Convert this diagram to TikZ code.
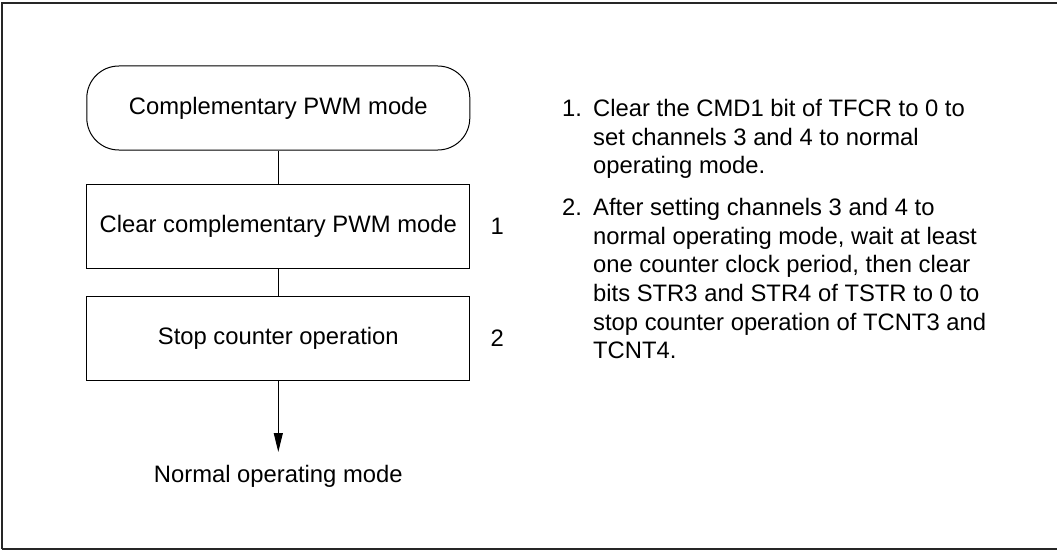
\documentclass[tikz,border=0pt]{standalone}
\usepackage{fontspec}
\setmainfont{Liberation Sans}
\usetikzlibrary{arrows.meta,positioning}
\newcommand{\flowfont}{\fontsize{23.8pt}{28.7pt}\selectfont}

\begin{document}
\begin{tikzpicture}[>={Triangle[length=19pt,width=9pt]}, x=1pt, y=-1pt]

\tikzset{
  frame/.style={
    draw=black!85,
    line width=1.5pt
  },
  stepbox/.style={
    draw,
    line width=1pt,
    fill=white,
    align=center,
    minimum width=383pt,
    minimum height=84pt,
    inner sep=0pt,
    font=\flowfont
  },
  terminal/.style={
    stepbox,
    rounded corners=32pt
  },
  plain/.style={
    inner sep=0pt,
    font=\flowfont
  },
  note/.style={
    inner sep=0pt,
    align=left,
    anchor=north west,
    font=\flowfont
  }
}

\useasboundingbox (0,0) rectangle (1057,551);
\draw[frame] (2,549) -- (2,3) -- (1062,3);
\draw[frame] (2,549) -- (1062,549);

% Flow on the left
\node[terminal] (start) at (278.3,108) {Complementary PWM mode};
\node[stepbox] (clear) at (278.3,226) {Clear complementary PWM mode};
\node[stepbox] (stop) at (278.3,338) {Stop counter operation};
\node[plain, anchor=north, outer ysep=13pt] (normal) at (278.3,452) {Normal operating mode};

\node[plain, right=20pt of clear] (n1) {1};
\node[plain, right=20pt of stop] (n2) {2};

\draw[line width=1pt] (start) -- (clear);
\draw[line width=1pt] (clear) -- (stop);
\draw[->, line width=1pt] (stop) -- (normal);

% Notes on the right
\node[note] (t1) at (593,99) {%
  Clear the CMD1 bit of TFCR to 0 to\\
  set channels 3 and 4 to normal\\
  operating mode.};
\node[plain, anchor=base west] (k1) at (562,116.3) {1.};

\node[note] (t2) at (593,198) {%
  After setting channels 3 and 4 to\\
  normal operating mode, wait at least\\
  one counter clock period, then clear\\
  bits STR3 and STR4 of TSTR to 0 to\\
  stop counter operation of TCNT3 and\\
  TCNT4.};
\node[plain, anchor=base west] (k2) at (562,215.3) {2.};

\end{tikzpicture}
\end{document}
